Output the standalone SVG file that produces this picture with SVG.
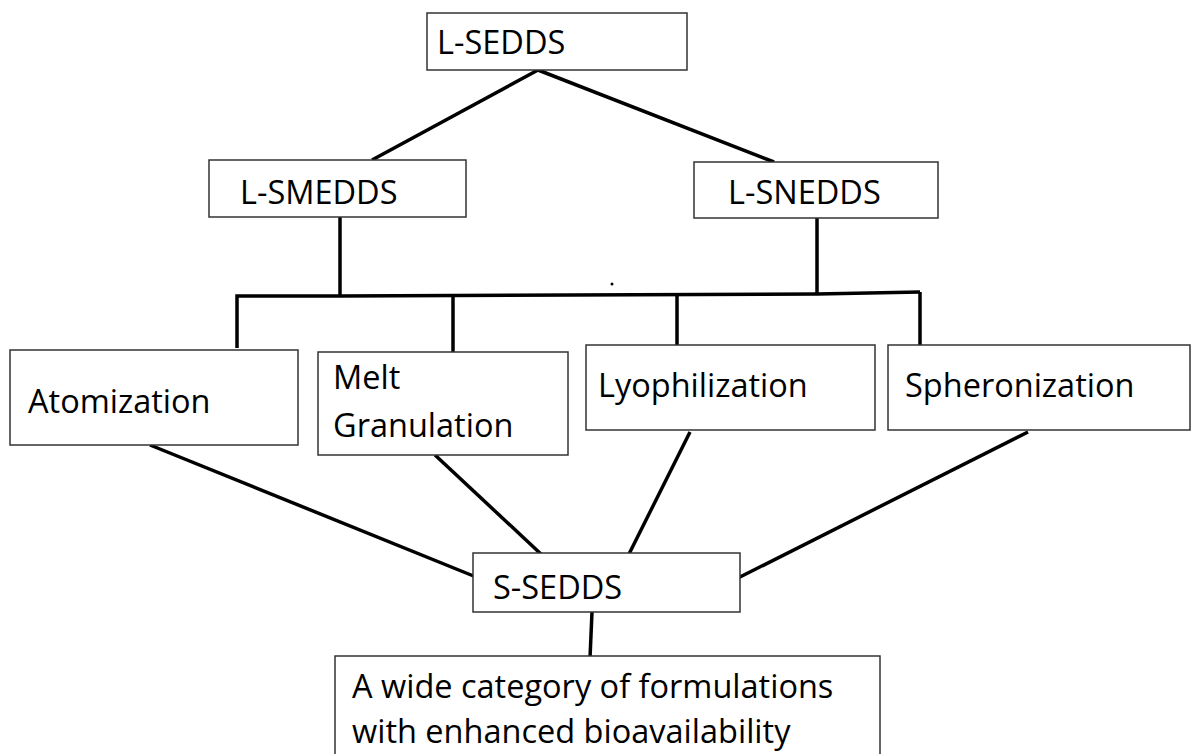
<svg xmlns="http://www.w3.org/2000/svg" width="1193" height="754" viewBox="0 0 1193 754">
<style>
.box{fill:#fff;stroke:#333;stroke-width:1.5}
.t{font-family:"Open Sans","Noto Sans",sans-serif;font-size:32.5px;fill:#000}
.c{stroke:#000;stroke-width:3.5;fill:none;stroke-linecap:butt}
</style>
<rect width="1193" height="754" fill="#fff"/>
<g id="connectors">
<line class="c" x1="538" y1="70" x2="372" y2="160"/>
<line class="c" x1="538" y1="70" x2="774" y2="162"/>
<line class="c" x1="340" y1="217" x2="340" y2="296"/>
<line class="c" x1="817" y1="218" x2="817" y2="294"/>
<polyline class="c" points="237,348 237,296 340,296 817,294 920,292"/>
<line class="c" x1="453" y1="295" x2="453" y2="352"/>
<line class="c" x1="677" y1="295" x2="677" y2="345"/>
<line class="c" x1="920" y1="292" x2="920" y2="345"/>
<line class="c" x1="150" y1="445" x2="476" y2="577"/>
<line class="c" x1="435" y1="455" x2="542" y2="555"/>
<line class="c" x1="690" y1="432" x2="628" y2="556"/>
<line class="c" x1="1028" y1="432" x2="738" y2="578"/>
<line class="c" x1="592" y1="612" x2="590" y2="658"/>
<circle cx="612" cy="284" r="1.5" fill="#000"/>
</g>
<g id="l-sedds"><rect class="box" x="427" y="13" width="260" height="57"/><text class="t" x="437" y="54">L-SEDDS</text></g>
<g id="l-smedds"><rect class="box" x="209" y="160" width="257" height="57"/><text class="t" x="240" y="204">L-SMEDDS</text></g>
<g id="l-snedds"><rect class="box" x="694" y="162" width="244" height="56"/><text class="t" x="728" y="204">L-SNEDDS</text></g>
<g id="atomization"><rect class="box" x="10" y="350" width="288" height="95"/><text class="t" x="28" y="413">Atomization</text></g>
<g id="melt-granulation"><rect class="box" x="318" y="352" width="250" height="103"/><text class="t" x="333" y="389">Melt</text><text class="t" x="333" y="437">Granulation</text></g>
<g id="lyophilization"><rect class="box" x="586" y="345" width="289" height="85"/><text class="t" x="598" y="397">Lyophilization</text></g>
<g id="spheronization"><rect class="box" x="888" y="345" width="302" height="85"/><text class="t" x="905" y="397">Spheronization</text></g>
<g id="s-sedds"><rect class="box" x="473" y="553" width="267" height="59"/><text class="t" x="493" y="599">S-SEDDS</text></g>
<g id="bioavailability"><rect class="box" x="335" y="656" width="545" height="110"/><text class="t" x="352" y="698">A wide category of formulations</text><text class="t" x="352" y="743">with enhanced bioavailability</text></g>
</svg>
